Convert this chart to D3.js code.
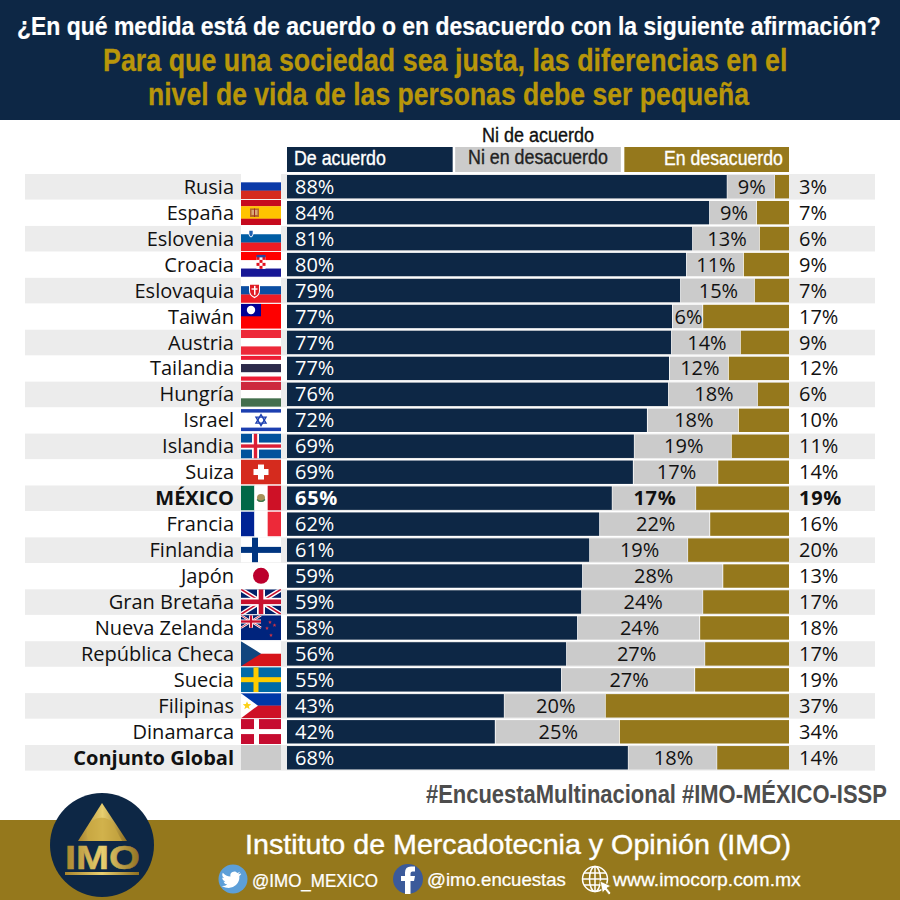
<!DOCTYPE html>
<html lang="es">
<head>
<meta charset="utf-8">
<title>IMO</title>
<script src="https://cdn.jsdelivr.net/npm/d3@7"></script>
<style>
html,body{margin:0;padding:0;background:#fff;width:900px;height:900px;overflow:hidden}
svg{display:block}
text{font-family:"Open Sans","Noto Sans",sans-serif}
.narrow{font-family:"Liberation Sans",sans-serif}
</style>
</head>
<body>
<div id="chart"></div>
<script>
const countries = ["Rusia","España","Eslovenia","Croacia","Eslovaquia","Taiwán","Austria","Tailandia","Hungría","Israel","Islandia","Suiza","MÉXICO","Francia","Finlandia","Japón","Gran Bretaña","Nueva Zelanda","República Checa","Suecia","Filipinas","Dinamarca","Conjunto Global"];
const flagCodes = ["ru","es","si","hr","sk","tw","at","th","hu","il","is","ch","mx","fr","fi","jp","gb","nz","cz","se","ph","dk","global"];
// bar lengths
const agree    = [87.6,84.1,80.7,79.5,78.3,76.7,76.5,76.1,75.9,71.7,69.1,68.9,64.7,62.2,60.2,58.8,58.6,57.8,55.6,54.6,43.2,41.4,67.9];
const neutral  = [9.6,9.5,13.5,11.5,14.9,6.2,13.9,11.9,17.9,18.3,19.5,17.0,16.8,22.1,19.7,28.1,24.3,24.5,27.7,26.7,20.3,24.9,17.8];
const disagree = [2.8,6.4,5.8,9.0,6.8,17.1,9.6,12.0,6.2,10.0,11.4,14.1,18.5,15.7,20.1,13.1,17.1,17.7,16.7,18.7,36.5,33.7,14.3];
// printed labels
const agreeLabels    = [88,84,81,80,79,77,77,77,76,72,69,69,65,62,61,59,59,58,56,55,43,42,68];
const neutralLabels  = [9,9,13,11,15,6,14,12,18,18,19,17,17,22,19,28,24,24,27,27,20,25,18];
const disagreeLabels = [3,7,6,9,7,17,9,12,6,10,11,14,19,16,20,13,17,18,17,19,37,34,14];
const boldRows = ["MÉXICO","Conjunto Global"];
const titleLine = "¿En qué medida está de acuerdo o en desacuerdo con la siguiente afirmación?";
const subtitleLines = ["Para que una sociedad sea justa, las diferencias en el","nivel de vida de las personas debe ser pequeña"];
const legendLabels = ["De acuerdo","Ni en desacuerdo","En desacuerdo"];

const NAVY="#0d2745", GOLD="#95781c", GREY="#cbcbcb", BAND="#ececec", TITLEGOLD="#b8960a";

const svg=d3.select("#chart").append("svg").attr("width",900).attr("height",900).attr("viewBox","0 0 900 900");
const defs=svg.append("defs");
const grad=defs.append("linearGradient").attr("id","logoGold");
[["0%","#a8842c"],["50%","#e8cf70"],["100%","#8f6f20"]].forEach(s=>grad.append("stop").attr("offset",s[0]).attr("stop-color",s[1]));

// text squeezed horizontally to a measured width
const fit=(sel,x0,yy,wd,size,txt,fill,opt={})=>{
  const t=sel.append("text").attr("class","narrow").attr("font-size",size)
    .attr("font-weight",opt.weight||"normal").attr("fill",fill).text(txt);
  if(opt.stroke) t.attr("stroke",fill).attr("stroke-width",opt.stroke);
  const nat=t.node().getComputedTextLength();
  t.attr("transform",`translate(${x0},${yy}) scale(${wd/nat},1)`);
  return t;
};

// header
svg.append("rect").attr("width",900).attr("height",120).attr("fill",NAVY);
fit(svg,17,35,864,25,titleLine,"#fff",{weight:"bold",stroke:.2});
fit(svg,103,71,685,32,subtitleLines[0],TITLEGOLD,{weight:"bold",stroke:.3});
fit(svg,148,105,601,32,subtitleLines[1],TITLEGOLD,{weight:"bold",stroke:.3});

// scales
const x=d3.scaleLinear().domain([0,100]).range([287,789]);
const y=d3.scaleBand().domain(countries).range([174,771]);

// legend
const legendBoxes=[[0,33],[33.5,66.5],[67.2,100]];
const legendFill=[NAVY,GREY,GOLD];
svg.selectAll("rect.leg").data(legendBoxes).join("rect").attr("class","leg")
  .attr("x",d=>x(d[0])).attr("width",d=>x(d[1])-x(d[0])).attr("y",147).attr("height",25)
  .attr("fill",(d,i)=>legendFill[i]);
fit(svg,482,142,112,20,"Ni de acuerdo","#111",{stroke:.35});
fit(svg,294,165,92,20,legendLabels[0],"#fff",{stroke:.35});
fit(svg,468,164,140,20,legendLabels[1],"#222",{stroke:.35});
fit(svg,664,165,119,20,legendLabels[2],"#fff",{stroke:.35});

// row bands
svg.selectAll("rect.band").data(countries.filter((d,i)=>i%2===0)).join("rect").attr("class","band")
  .attr("x",25).attr("width",850).attr("y",d=>y(d)).attr("height",y.bandwidth()-0.4).attr("fill",BAND);

// bars
const rows=svg.selectAll("g.row").data(countries).join("g").attr("class","row").attr("transform",d=>`translate(0,${y(d)})`);
const BH=23.4, BT=1;
rows.append("rect").attr("x",x(0)).attr("y",BT).attr("height",BH).attr("fill",NAVY)
  .attr("width",(d,i)=>x(agree[i])-x(0));
rows.append("rect").attr("y",BT).attr("height",BH).attr("fill",GREY)
  .attr("x",(d,i)=>x(agree[i])+0.8)
  .attr("width",(d,i)=>x(agree[i]+neutral[i])-x(agree[i])-1.6);
rows.append("rect").attr("y",BT).attr("height",BH).attr("fill",GOLD)
  .attr("x",(d,i)=>x(100-disagree[i]))
  .attr("width",(d,i)=>x(100)-x(100-disagree[i]));

// labels
const LS=20;
const isMx=d=>d==="MÉXICO";
const mid=y.bandwidth()/2+6.8;
const emph=sel=>sel.attr("font-weight",d=>isMx(d)?"bold":"normal").attr("letter-spacing",d=>isMx(d)?"0.7px":null);
rows.append("text").attr("x",234).attr("y",mid).attr("text-anchor","end").attr("font-size",LS).attr("fill","#111")
  .attr("font-weight",d=>boldRows.includes(d)?"bold":"normal").text(d=>d);
rows.append("text").attr("x",295).attr("y",mid).attr("font-size",LS).attr("fill","#fff")
  .call(emph).text((d,i)=>agreeLabels[i]+"%");
rows.append("text").attr("x",(d,i)=>x(agree[i]+neutral[i]/2)+1).attr("y",mid).attr("text-anchor","middle").attr("font-size",LS).attr("fill","#111")
  .call(emph).text((d,i)=>neutralLabels[i]+"%");
rows.append("text").attr("x",799).attr("y",mid).attr("font-size",LS).attr("fill","#111")
  .call(emph).text((d,i)=>disagreeLabels[i]+"%");

// flags (40 x 25 cell)
const bars=(g,cols,hs)=>{let t=0;const tot=d3.sum(hs);cols.forEach((c,i)=>{g.append("rect").attr("x",0).attr("y",t/tot*25).attr("width",40).attr("height",hs[i]/tot*25+.2).attr("fill",c);t+=hs[i];});};
const vbars=(g,cols)=>cols.forEach((c,i)=>g.append("rect").attr("x",i*40/3).attr("y",0).attr("width",40/3+.2).attr("height",25).attr("fill",c));
const R=(g,a,b,c,d,f)=>g.append("rect").attr("x",a).attr("y",b).attr("width",c).attr("height",d).attr("fill",f);
const star=(g,cx,cy,r,f)=>{const p=d3.range(10).map(i=>{const q=i%2?r*.42:r,a=-Math.PI/2+i*Math.PI/5;return [cx+q*Math.cos(a),cy+q*Math.sin(a)];});g.append("polygon").attr("points",p.join(" ")).attr("fill",f);};
const jack=(g,W,H)=>{
  R(g,0,0,W,H,"#012169");
  const line=(a,b,c,d,col,sw)=>g.append("line").attr("x1",a).attr("y1",b).attr("x2",c).attr("y2",d).attr("stroke",col).attr("stroke-width",sw);
  const u=H/25;
  line(0,0,W,H,"#fff",4.4*u);line(W,0,0,H,"#fff",4.4*u);
  line(0,0,W,H,"#c8102e",1.6*u);line(W,0,0,H,"#c8102e",1.6*u);
  R(g,W/2-4*u,0,8*u,H,"#fff");R(g,0,H/2-4*u,W,8*u,"#fff");
  R(g,W/2-2.3*u,0,4.6*u,H,"#c8102e");R(g,0,H/2-2.3*u,W,4.6*u,"#c8102e");
};
const flagDraw={
  ru:g=>bars(g,["#fff","#0b3aa8","#d52b1e"],[1,1,1]),
  es:g=>{bars(g,["#c60b1e","#ffc400","#c60b1e"],[1,2,1]);R(g,9,8.5,9,8.5,"#b5652a");R(g,10.5,10,6,5,"#d9a878");R(g,13,8.5,1,8.5,"#a02a20");},
  si:g=>{bars(g,["#fff","#005da4","#ed1c24"],[1,1,1]);g.append("path").attr("d","M7.5 4h5v4q0 2.5-2.5 3.5q-2.5-1-2.5-3.5z").attr("fill","#fff");g.append("path").attr("d","M8.3 4.8h3.4v3q0 2-1.7 2.8q-1.7-.8-1.7-2.8z").attr("fill","#1d5fb0");},
  hr:g=>{bars(g,["#ff0000","#fff","#171796"],[1,1,1]);R(g,15.5,5,9,12,"#fff");d3.range(4).forEach(r=>d3.range(3).forEach(c=>{if((r+c)%2===0)R(g,15.5+c*3,5+r*3,3,3,"#e01020");}));R(g,15.5,3,9,2.5,"#26479e");},
  sk:g=>{bars(g,["#fff","#0b4ea2","#ee1c25"],[1,1,1]);g.append("path").attr("d","M8 6h11v7q0 5-5.5 7.5q-5.5-2.5-5.5-7.5z").attr("fill","#fff");g.append("path").attr("d","M9 7h9v6q0 4-4.5 6q-4.5-2-4.5-6z").attr("fill","#e01c25");R(g,13,8,1.5,9,"#fff");R(g,10.5,10.5,6,1.4,"#fff");},
  tw:g=>{R(g,0,0,40,25,"#fe0000");R(g,0,0,20,12.5,"#000095");g.append("circle").attr("cx",10).attr("cy",6.25).attr("r",4.2).attr("fill","#fff");},
  at:g=>bars(g,["#ed2939","#fff","#ed2939"],[1,1,1]),
  th:g=>bars(g,["#ed1c34","#fff","#2d2a4a","#fff","#ed1c34"],[1,1,2,1,1]),
  hu:g=>bars(g,["#cd2a3e","#fff","#436f4d"],[1,1,1]),
  il:g=>{R(g,0,0,40,25,"#fff");R(g,0,1.5,40,3.5,"#1c3fb0");R(g,0,20,40,3.5,"#1c3fb0");
    [[20,7,25,15.5,15,15.5],[20,18,25,9.5,15,9.5]].forEach(p=>g.append("polygon").attr("points",`${p[0]},${p[1]} ${p[2]},${p[3]} ${p[4]},${p[5]}`).attr("fill","none").attr("stroke","#1c3fb0").attr("stroke-width",1.4));},
  is:g=>{R(g,0,0,40,25,"#02529c");R(g,11,0,7,25,"#fff");R(g,0,9,40,7,"#fff");R(g,12.8,0,3.4,25,"#dc1e35");R(g,0,10.8,40,3.4,"#dc1e35");},
  ch:g=>{R(g,0,0,40,25,"#d52b1e");R(g,17,5,6,15,"#fff");R(g,12.5,9.5,15,6,"#fff");},
  mx:g=>{vbars(g,["#006847","#fff","#ce1126"]);g.append("circle").attr("cx",20).attr("cy",12.5).attr("r",4).attr("fill","#a8925a");g.append("path").attr("d","M16 14q4 4 8 0").attr("fill","none").attr("stroke","#3c7a4e").attr("stroke-width",1.2);},
  fr:g=>vbars(g,["#002395","#fff","#ed2939"]),
  fi:g=>{R(g,0,0,40,25,"#fff");R(g,11,0,6,25,"#003580");R(g,0,9.5,40,6,"#003580");},
  jp:g=>{R(g,0,0,40,25,"#fff");g.append("circle").attr("cx",20).attr("cy",12.5).attr("r",8).attr("fill","#bc002d");},
  gb:g=>jack(g,40,25),
  nz:g=>{R(g,0,0,40,25,"#00247d");jack(g,20,12.5);[[29,7],[33.5,10],[26,13],[30,20]].forEach(p=>star(g,p[0],p[1],2,"#cc3344"));},
  cz:g=>{bars(g,["#fff","#d7141a"],[1,1]);g.append("polygon").attr("points","0,0 20,12.5 0,25").attr("fill","#11457e");},
  se:g=>{R(g,0,0,40,25,"#006aa7");R(g,12.5,0,5,25,"#fecc00");R(g,0,10,40,5,"#fecc00");},
  ph:g=>{bars(g,["#0038a8","#ce1126"],[1,1]);g.append("polygon").attr("points","0,0 17,12.5 0,25").attr("fill","#fff");star(g,6,12.5,4.5,"#fcd116");},
  dk:g=>{R(g,0,0,40,25,"#c60c30");R(g,13,0,5,25,"#fff");R(g,0,10,40,5,"#fff");},
  global:g=>R(g,0,0,40,25,GREY)
};
rows.each(function(d,i){
  const s=d3.select(this).append("svg").attr("x",241).attr("y",0).attr("width",40).attr("height",25)
    .attr("viewBox","0 0 40 25").attr("preserveAspectRatio","none");
  R(s,0,0,40,25,"#fff");
  flagDraw[flagCodes[i]](s);
});

// hashtag line
fit(svg,426,803,461,25.5,"#EncuestaMultinacional #IMO-MÉXICO-ISSP","#4d4d4d",{weight:"bold"});

// footer
svg.append("rect").attr("y",820).attr("width",900).attr("height",80).attr("fill",GOLD);
svg.append("circle").attr("cx",102).attr("cy",845).attr("r",52).attr("fill",NAVY);
svg.append("polygon").attr("points","102,803 78,841 127,841").attr("fill","url(#logoGold)");
svg.append("path").attr("d","M89 841A15 15 0 0 1 112 822L122 841Z").attr("fill","#c9a840").attr("opacity",.75);
fit(svg,65,869,75,33.5,"IMO","url(#logoGold)",{weight:"bold",stroke:.5});
svg.append("rect").attr("x",65).attr("y",872).attr("width",74).attr("height",3).attr("fill","url(#logoGold)");

fit(svg,245,854,546,27,"Instituto de Mercadotecnia y Opinión (IMO)","#fff",{stroke:.4});
fit(svg,252,887,126,18,"@IMO_MEXICO","#fff",{stroke:.25});
fit(svg,427,886,139,18,"@imo.encuestas","#fff",{stroke:.25});
fit(svg,613,886,188,18,"www.imocorp.com.mx","#fff",{stroke:.25});

// twitter icon
const tw=svg.append("g").attr("transform","translate(233,879)");
tw.append("circle").attr("r",14.5).attr("fill","#5d9fd8");
tw.append("path").attr("fill","#fff").attr("d","M9-6.5q-1.5.7-3 .8q1.7-1 2.2-2.7q-1.5.9-3.2 1.2a4.7 4.7 0 0 0-8 4.3q-5.5-.3-9-4.5q-1.8 3.6 1.5 6.3q-1.2 0-2.2-.6q0 3.5 3.7 4.7q-1 .3-2.1.1q1 3 4.3 3.3q-2.8 2.1-6.7 1.7q10 5.5 17-1q4.5-4.5 4-10.7q1.3-.9 2.2-2.2z").attr("transform","scale(.85)");
// facebook icon
const fb=svg.append("g").attr("transform","translate(408,879)");
fb.append("circle").attr("r",15).attr("fill","#3b5a9a");
fb.append("path").attr("fill","#fff").attr("d","M-3 15V2h-4v-5h4v-3.5q0-6 6-6h4v5H4.5q-2 0-2 2v2.5H7L6 2H2.5v13z");
// web icon
const web=svg.append("g").attr("transform","translate(595,879)").attr("fill","none").attr("stroke","#fff").attr("stroke-width",1.5);
web.append("circle").attr("r",12.5);
web.append("ellipse").attr("rx",5.5).attr("ry",12.5);
web.append("line").attr("x1",-12.5).attr("x2",12.5);
web.append("path").attr("d","M-11-6H11M-11 6H11M0-12.5V12.5");
svg.append("path").attr("transform","translate(600,881)").attr("fill","#fff").attr("stroke",GOLD).attr("stroke-width",.8).attr("d","M0 0L11 5L7 7L11 12L9 14L5 9L2.5 12Z");
</script>
</body>
</html>
